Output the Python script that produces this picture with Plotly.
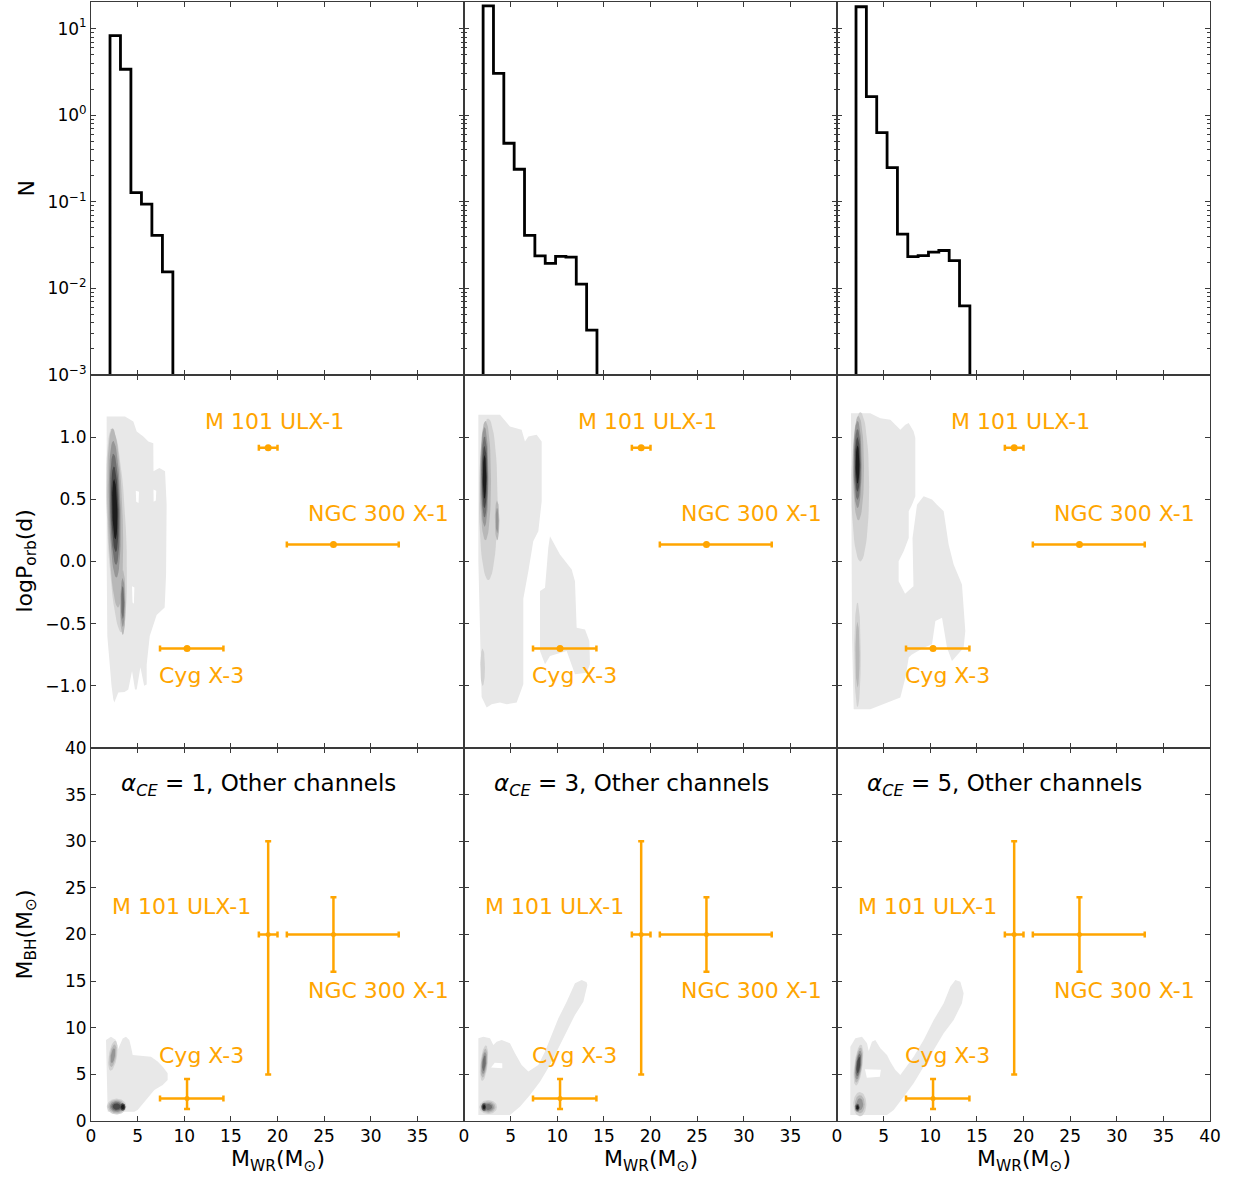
import numpy as np
import plotly.graph_objects as go
from plotly.subplots import make_subplots

# ---------------- data ----------------
ALPHA_CE = [1, 3, 5]

# Top row: step histograms of M_WR (bin edges and counts, log N)
hist_edges = [
    [2.04, 3.16, 4.28, 5.41, 6.53, 7.66, 8.78],
    [2.05, 3.16, 4.27, 5.38, 6.49, 7.60, 8.71, 9.82, 10.93, 12.04, 13.15, 14.26],
    [2.04, 3.15, 4.26, 5.37, 6.48, 7.59, 8.70, 9.81, 10.92, 12.03, 13.14, 14.25],
]
hist_counts = [
    [8.3, 3.4, 0.128, 0.094, 0.041, 0.0155],
    [18.3, 3.05, 0.475, 0.238, 0.041, 0.0237, 0.0195, 0.0235, 0.0230, 0.0112, 0.0033],
    [17.9, 1.64, 0.63, 0.248, 0.0423, 0.0233, 0.0239, 0.0262, 0.0274, 0.0209, 0.0063],
]

# Observed WR + compact object systems
src_names = ["M 101 ULX-1", "NGC 300 X-1", "Cyg X-3"]
src_mwr = [19.0, 26.0, 10.3]
src_mwr_lo = [1.0, 5.0, 2.9]
src_mwr_hi = [1.0, 7.0, 3.9]
src_logp = [0.915, 0.136, -0.70]
src_mbh = [20.0, 20.0, 2.4]
src_mbh_lo = [15.0, 4.0, 1.1]
src_mbh_hi = [10.0, 4.0, 2.1]

# Density regions (outermost contour level), logP_orb vs M_WR
mid_regions = [
    [  # alpha=1
        ([1.68, 1.68, 2.04, 3.65, 4.54, 4.9, 5.61, 6.15, 6.68, 6.7, 7.33, 7.94, 8.11, 8.05, 7.9, 7.04, 6.3,
          5.97, 5.97, 5.7, 5.3, 5.08, 4.9, 4.72, 4.4, 4.0, 3.6, 2.93, 2.5, 2.39, 2.2, 1.75],
         [0.0, 1.166, 1.166, 1.166, 1.126, 1.046, 1.006, 0.966, 0.952, 0.725, 0.752, 0.725, 0.46, -0.104,
          -0.37, -0.43, -0.6, -0.83, -0.99, -1.0, -0.85, -0.95, -1.03, -1.03, -0.88, -1.03, -1.05, -1.054,
          -1.134, -1.108, -1.0, -0.6]),
    ],
    [  # alpha=3
        ([1.54, 1.54, 3.86, 4.93, 6.18, 6.54, 6.9, 7.79, 8.33, 8.33, 7.97, 7.43, 6.9, 6.54, 6.36, 6.36, 6.0,
          5.65, 4.58, 3.86, 2.97, 2.43, 1.89, 1.72],
         [0.0, 1.18, 1.18, 1.086, 1.06, 0.966, 1.006, 1.02, 0.966, 0.484, 0.243, 0.163, -0.078, -0.211, -0.3,
          -0.987, -1.067, -1.134, -1.148, -1.134, -1.148, -1.174, -1.09, -0.6]),
        ([9.22, 10.29, 11.55, 11.9, 12.08, 12.98, 13.44, 13.51, 13.15, 11.9, 11.01, 9.22, 8.69, 8.15, 8.15,
          8.69, 9.04],
         [0.203, 0.056, -0.064, -0.158, -0.532, -0.546, -0.64, -0.827, -0.894, -0.907, -0.72, -0.76, -0.827,
          -0.72, -0.238, -0.211, 0.11]),
    ],
    [  # alpha=5
        ([1.5, 3.57, 4.65, 5.72, 6.79, 7.33, 7.69, 8.22, 8.4, 8.4, 8.04, 7.69, 7.69, 7.15, 6.61, 6.61, 7.3,
          8.2, 8.1, 8.4, 8.58, 9.29, 10.19, 10.72, 11.44, 11.97, 12.51, 13.4, 13.58, 13.76, 13.58, 12.33,
          11.8, 11.26, 10.55, 10.19, 9.29, 8.0, 7.69, 7.33, 6.79, 5.0, 3.57, 1.79, 1.61],
         [1.193, 1.193, 1.153, 1.14, 1.059, 1.1, 1.113, 1.046, 0.993, 0.524, 0.457, 0.404, 0.19, 0.083, 0.003,
          -0.158, -0.26, -0.2, 0.19, 0.38, 0.457, 0.524, 0.498, 0.457, 0.404, 0.136, -0.024, -0.185, -0.345,
          -0.559, -0.693, -0.8, -0.693, -0.452, -0.479, -0.666, -0.693, -0.75, -0.773, -0.934, -1.094,
          -1.148, -1.188, -1.188, -0.613]),
    ],
]
mid_holes = [
    [([4.8, 5.15, 5.1, 4.85], [0.57, 0.56, 0.47, 0.48]),
     ([4.4, 4.65, 4.6, 4.45], [-0.2, -0.21, -0.34, -0.33]),
     ([6.7, 7.0, 6.95, 6.72], [0.58, 0.57, 0.49, 0.48])],
    [],
    [],
]
# density cores: (x_c, y_c, r_x, r_y, shear, lowest level, highest level)
mid_cores = [
    [(2.75, 0.25, 1.0, 0.82, -0.6, 1, 1), (2.6, 0.35, 0.8, 0.72, -0.4, 2, 2),
     (2.55, 0.42, 0.62, 0.55, -0.3, 3, 6), (3.4, -0.33, 0.32, 0.26, 0.0, 2, 4)],
    [(2.6, 0.5, 1.0, 0.65, 0.0, 1, 1), (2.3, 0.65, 0.6, 0.48, 0.0, 2, 2),
     (2.2, 0.68, 0.42, 0.4, 0.0, 3, 6), (3.55, 0.33, 0.24, 0.16, 0.0, 2, 3),
     (2.0, -0.85, 0.25, 0.15, 0.0, 1, 1)],
    [(2.5, 0.6, 0.95, 0.6, 0.0, 1, 1), (2.3, 0.75, 0.6, 0.42, 0.0, 2, 2),
     (2.2, 0.78, 0.45, 0.35, 0.0, 3, 6), (2.2, -0.75, 0.35, 0.42, 0.0, 1, 2)],
]

# Density regions, M_BH vs M_WR
bot_regions = [
    [([1.79, 1.61, 2.14, 2.68, 2.86, 3.22, 3.4, 3.75, 4.11, 4.29, 4.47, 6.43, 7.15, 7.69, 8.22, 8.22, 7.69,
       6.79, 5.72, 5.0, 4.65],
      [1.0, 8.69, 9.04, 8.69, 7.62, 8.33, 8.86, 9.04, 8.69, 7.97, 7.08, 6.9, 6.37, 5.83, 5.11, 4.4, 3.86,
       3.32, 2.07, 1.18, 1.0])],
    [([1.54, 1.54, 2.07, 2.79, 3.15, 3.5, 4.04, 4.93, 5.47, 6.18, 6.9, 7.97, 8.69, 9.4, 10.12, 11.01, 11.9,
       12.62, 13.15, 13.23, 12.8, 11.9, 11.19, 10.29, 9.22, 8.15, 7.08, 6.0, 4.93],
      [0.64, 8.87, 9.04, 8.87, 8.15, 8.51, 8.69, 8.33, 7.26, 6.0, 5.3, 6.0, 7.44, 9.22, 11.01, 12.8, 14.76,
       15.12, 14.87, 14.58, 12.8, 11.37, 9.94, 8.15, 6.0, 4.22, 2.79, 1.54, 0.64])],
    [([1.43, 1.43, 1.97, 2.68, 3.22, 3.4, 3.75, 4.11, 4.65, 5.36, 5.72, 6.26, 6.79, 8.22, 9.29, 10.37, 11.44,
       12.15, 12.69, 13.23, 13.58, 13.4, 12.51, 11.44, 10.37, 9.29, 8.22, 7.15, 6.08, 5.36],
      [0.64, 7.97, 8.87, 9.04, 8.33, 7.5, 8.51, 8.69, 7.79, 7.08, 6.36, 5.47, 4.93, 6.9, 8.69, 10.83, 12.62,
       14.41, 15.12, 14.94, 13.69, 12.62, 10.83, 9.4, 7.61, 5.83, 4.04, 2.61, 1.18, 0.64])],
]
bot_holes = [
    [],
    [([2.9, 4.1, 4.1, 3.3], [5.75, 5.65, 6.2, 6.25])],
    [([3.0, 4.7, 4.6, 3.2], [5.55, 5.5, 4.75, 4.65])],
]
bot_cores = [
    [(2.35, 7.0, 0.45, 1.6, 0.15, 1, 3), (2.75, 1.55, 1.05, 0.85, 0.0, 1, 5), (3.4, 1.5, 0.3, 0.4, 0.0, 5, 6)],
    [(2.15, 6.2, 0.4, 1.9, 0.1, 1, 4), (2.6, 1.5, 0.95, 0.75, 0.0, 1, 4), (2.15, 1.5, 0.3, 0.45, 0.0, 4, 6)],
    [(2.3, 6.0, 0.45, 2.2, 0.12, 1, 5), (2.45, 1.8, 0.7, 1.3, 0.0, 1, 3), (2.2, 1.46, 0.3, 0.5, 0.0, 3, 6)],
]

# ---------------- style ----------------
ORANGE = "#FFA500"
BASE_GREY = "#e8e8e8"
GREYS = {1: "#d2d2d2", 2: "#b8b8b8", 3: "#969696", 4: "#707070", 5: "#484848", 6: "#1c1c1c"}
AX = "#3a3a3a"
FONT = "DejaVu Sans"

fig = make_subplots(rows=3, cols=3, horizontal_spacing=0, vertical_spacing=0)


def poly(xs, ys, color, r, c):
    fig.add_trace(go.Scatter(x=list(xs) + [xs[0]], y=list(ys) + [ys[0]], mode="lines", fill="toself",
                             fillcolor=color, line=dict(width=0, color=color), hoverinfo="skip"),
                  row=r, col=c)


def core(cdef, r, c):
    xc, yc, rx, ry, k, lo, hi = cdef
    t = np.linspace(0, 2 * np.pi, 60)
    n = hi - lo + 1
    for i, lev in enumerate(range(lo, hi + 1)):
        s = 1.0 - 0.75 * i / n if n > 1 else 1.0
        yy = yc + s * ry * np.sin(t)
        xx = xc + s * rx * np.cos(t) + k * (yy - yc)
        poly(list(xx), list(yy), GREYS[lev], r, c)


for ci in range(3):
    c = ci + 1
    # ---- top row histogram ----
    edges = hist_edges[ci]
    counts = hist_counts[ci]
    floor = 1e-6
    xs = [edges[0]]
    ys = [floor]
    for i, v in enumerate(counts):
        xs += [edges[i], edges[i + 1]]
        ys += [v, v]
    xs.append(edges[-1])
    ys.append(floor)
    fig.add_trace(go.Scatter(x=xs, y=ys, mode="lines", line=dict(color="black", width=2.8),
                             hoverinfo="skip"), row=1, col=c)

    # ---- middle row density + sources ----
    for xs_, ys_ in mid_regions[ci]:
        poly(xs_, ys_, BASE_GREY, 2, c)
    for xs_, ys_ in mid_holes[ci]:
        poly(xs_, ys_, "white", 2, c)
    for cd in mid_cores[ci]:
        core(cd, 2, c)
    fig.add_trace(go.Scatter(
        x=src_mwr, y=src_logp, mode="markers",
        marker=dict(color=ORANGE, size=7),
        error_x=dict(type="data", symmetric=False, array=src_mwr_hi, arrayminus=src_mwr_lo,
                     color=ORANGE, thickness=2.5, width=3),
        hoverinfo="skip"), row=2, col=c)

    # ---- bottom row density + sources ----
    for xs_, ys_ in bot_regions[ci]:
        poly(xs_, ys_, BASE_GREY, 3, c)
    for xs_, ys_ in bot_holes[ci]:
        poly(xs_, ys_, "white", 3, c)
    for cd in bot_cores[ci]:
        core(cd, 3, c)
    fig.add_trace(go.Scatter(
        x=src_mwr, y=src_mbh, mode="markers",
        marker=dict(color=ORANGE, size=5),
        error_x=dict(type="data", symmetric=False, array=src_mwr_hi, arrayminus=src_mwr_lo,
                     color=ORANGE, thickness=2.5, width=3),
        error_y=dict(type="data", symmetric=False, array=src_mbh_hi, arrayminus=src_mbh_lo,
                     color=ORANGE, thickness=2.5, width=3),
        hoverinfo="skip"), row=3, col=c)

    # labels
    mid_pos = [(12.0, 1.13), (23.06, 0.385), (7.08, -0.915)]
    bot_pos = [(2.04, 23.0), (23.06, 14.0), (7.08, 7.05)]
    for name, (px, py) in zip(src_names, mid_pos):
        fig.add_annotation(x=px, y=py, text=name, showarrow=False, xanchor="left", yanchor="middle",
                           font=dict(color=ORANGE, size=22, family=FONT), row=2, col=c)
    for name, (px, py) in zip(src_names, bot_pos):
        fig.add_annotation(x=px, y=py, text=name, showarrow=False, xanchor="left", yanchor="middle",
                           font=dict(color=ORANGE, size=22, family=FONT), row=3, col=c)
    fig.add_annotation(x=3.0, y=36.0,
                       text=f"<i>α</i><sub><i>CE</i></sub> = {ALPHA_CE[ci]}, Other channels",
                       showarrow=False, xanchor="left", yanchor="middle",
                       font=dict(color="black", size=23, family=FONT), row=3, col=c)

# ---------------- axes ----------------
base = dict(showline=True, linecolor=AX, linewidth=1, mirror="ticks", ticks="inside", ticklen=5,
            tickwidth=1, tickcolor=AX, showgrid=False, zeroline=False, automargin=False,
            tickfont=dict(size=17, family=FONT, color="black"))

minor_log = []
for d in [-3, -2, -1, 0, 1]:
    for m in range(2, 10):
        minor_log.append(m * 10.0 ** d)

for r in range(1, 4):
    for c in range(1, 4):
        xv = list(range(0, 45 if (r == 3 and c == 3) else 40, 5))
        fig.update_xaxes(base, range=[0, 40], tickmode="array", tickvals=list(range(0, 45, 5)) if r < 3 else xv,
                         showticklabels=(r == 3), row=r, col=c)
        if r == 1:
            fig.update_yaxes(base, type="log", range=[-3, 1.308], tickmode="array",
                             tickvals=[1e-3, 1e-2, 1e-1, 1, 10],
                             ticktext=["10<sup>−3</sup>", "10<sup>−2</sup>", "10<sup>−1</sup>",
                                       "10<sup>0</sup>", "10<sup>1</sup>"],
                             minor=dict(ticks="inside", ticklen=3, tickcolor=AX, tickmode="array",
                                        tickvals=minor_log, showgrid=False),
                             showticklabels=(c == 1), row=r, col=c)
        elif r == 2:
            fig.update_yaxes(base, range=[-1.5, 1.5], tickmode="array",
                             tickvals=[-1.0, -0.5, 0.0, 0.5, 1.0],
                             ticktext=["−1.0", "−0.5", "0.0", "0.5", "1.0"],
                             showticklabels=(c == 1), row=r, col=c)
        else:
            fig.update_yaxes(base, range=[0, 40], tickmode="array", tickvals=list(range(0, 45, 5)),
                             showticklabels=(c == 1), row=r, col=c)

# axis titles as annotations
title_font = dict(size=22, family=FONT, color="black")
for ci in range(3):
    fig.add_annotation(xref="paper", yref="paper", x=(ci + 0.5) / 3, y=-0.0205,
                       text="M<sub>WR</sub>(M<sub>⊙</sub>)", showarrow=False,
                       xanchor="center", yanchor="top", font=title_font)
ytitles = ["N", "logP<sub>orb</sub>(d)", "M<sub>BH</sub>(M<sub>⊙</sub>)"]
for ri, t in enumerate(ytitles):
    fig.add_annotation(xref="paper", yref="paper", x=-0.058, y=1 - (ri + 0.5) / 3,
                       text=t, showarrow=False, textangle=-90,
                       xanchor="center", yanchor="middle", font=title_font)

fig.update_layout(width=1239, height=1179, margin=dict(l=91, r=29, t=2, b=58, autoexpand=False),
                  plot_bgcolor="white", paper_bgcolor="white", showlegend=False,
                  font=dict(family=FONT, size=17, color="black"))

fig.write_html("out.html")
